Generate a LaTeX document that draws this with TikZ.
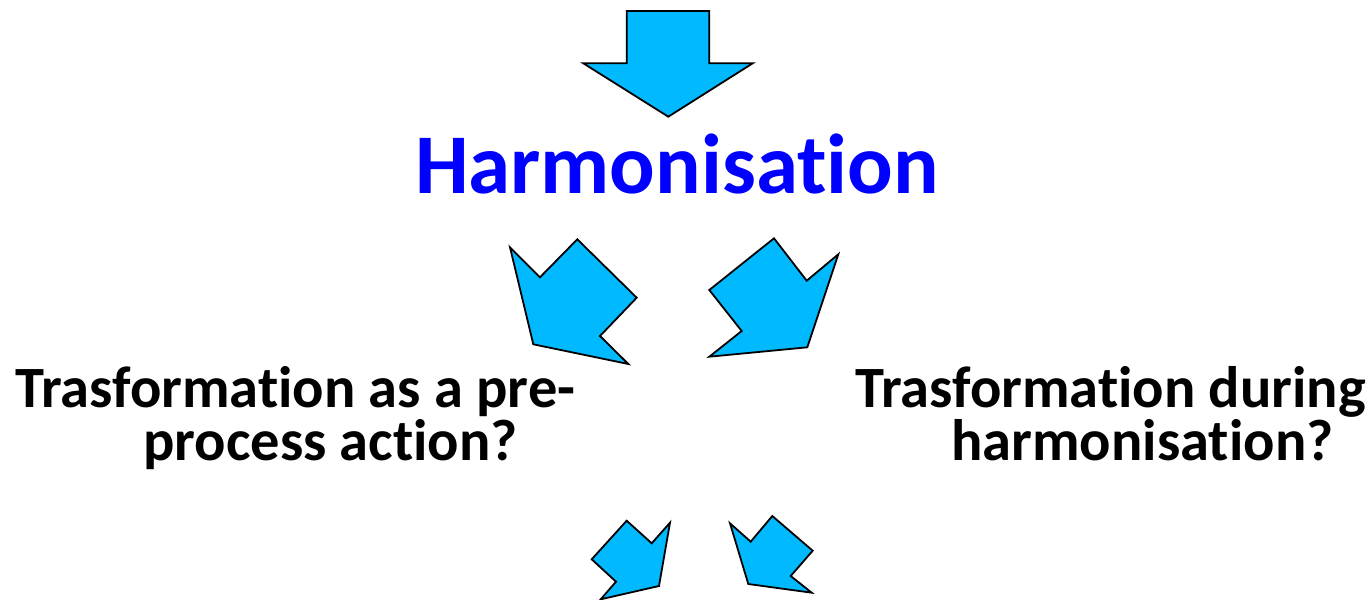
\documentclass[tikz,border=0pt]{standalone}
\usepackage{fontspec}
\setmainfont{Carlito}[Ligatures={NoCommon,NoRequired,NoContextual}]
\definecolor{arrowfill}{HTML}{00B9FF}
\definecolor{titleblue}{HTML}{0000FF}
\begin{document}
\begin{tikzpicture}[x=1pt,y=-1pt,
  blockarrow/.style={fill=arrowfill,draw=black,line width=1.8pt,line join=miter},
  bigtitle/.style={inner sep=0pt,anchor=base,font=\fontsize{85}{90}\selectfont\bfseries,text=titleblue},
  question/.style={inner sep=0pt,anchor=base west,font=\fontsize{58.5}{60}\selectfont\bfseries,text=black}]
\useasboundingbox (0,0) rectangle (1369,600);
% top arrow
\draw[blockarrow] (626.7,11) -- (709.3,11) -- (709.3,63.3) -- (752.7,63.3) -- (668.3,116.7) -- (583.3,63.3) -- (626.7,63.3) -- cycle;
% title
\node[bigtitle] (title) at (677,193) {Harmonisation};
% left arrow
\draw[blockarrow] (510,247.3) -- (540,277.3) -- (577.3,239.3) -- (636.7,297.7) -- (600,336) -- (628.3,364) -- (533.3,344.3) -- cycle;
% right arrow
\draw[blockarrow] (774,238.3) -- (806.7,280.7) -- (838.3,254.3) -- (807.3,347.3) -- (709.3,356.7) -- (741.7,331) -- (709.3,290) -- cycle;
% questions
\node[question] (q1a) at (15,407) {Trasformation as a pre-};
\node[question] (q1b) at (143,460) {process action?};
\node[question] (q2a) at (855,407) {Trasformation during};
\node[question] (q2b) at (951,460) {harmonisation?};
% bottom small arrows
\draw[blockarrow] (626.7,520.7) -- (651.7,543.3) -- (670,522.7) -- (659,586) -- (600.7,599.3) -- (616,581.7) -- (591.7,559.3) -- cycle;
\draw[blockarrow] (730,523.3) -- (750.7,541.7) -- (772.3,516) -- (812.7,550.7) -- (790.7,576) -- (811.7,592.7) -- (748.3,584) -- cycle;
\end{tikzpicture}
\end{document}
